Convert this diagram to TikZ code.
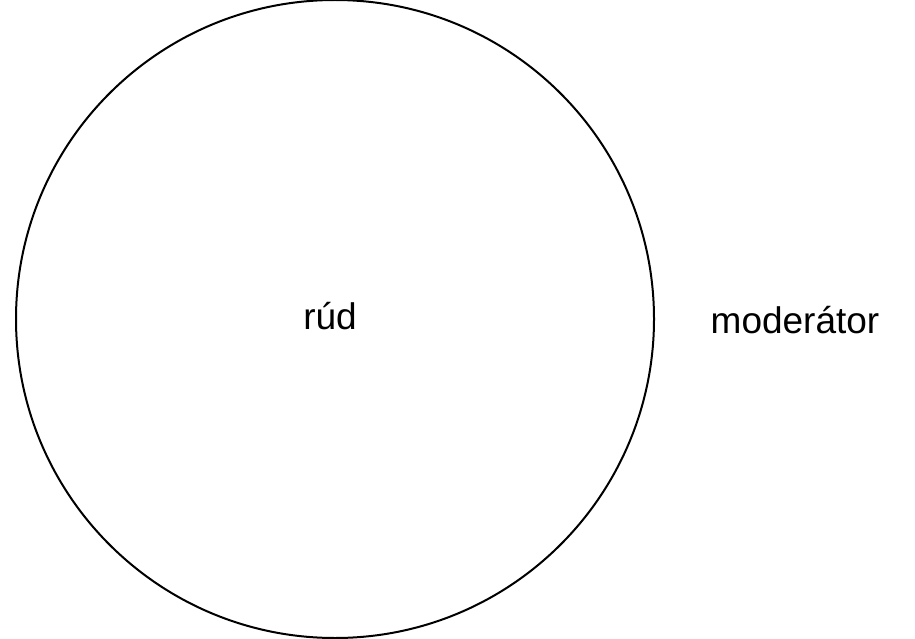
\documentclass[tikz,border=0pt]{standalone}
\usepackage{fontspec}
\setmainfont{Liberation Sans}
\begin{document}
\begin{tikzpicture}[x=1pt,y=-1pt,
  lbl/.style={font=\fontsize{37}{40}\selectfont, inner sep=0pt},
  rod/.style={circle, draw=black, line width=2pt, minimum size=638pt, inner sep=0pt}]
\useasboundingbox (0,0) rectangle (915,639);
\node[rod] (rod) at (335,319) {};
\node[lbl] (rud) at (330,316) {rúd};
\node[lbl] (mod) at (795,320) {moderátor};
\end{tikzpicture}
\end{document}
